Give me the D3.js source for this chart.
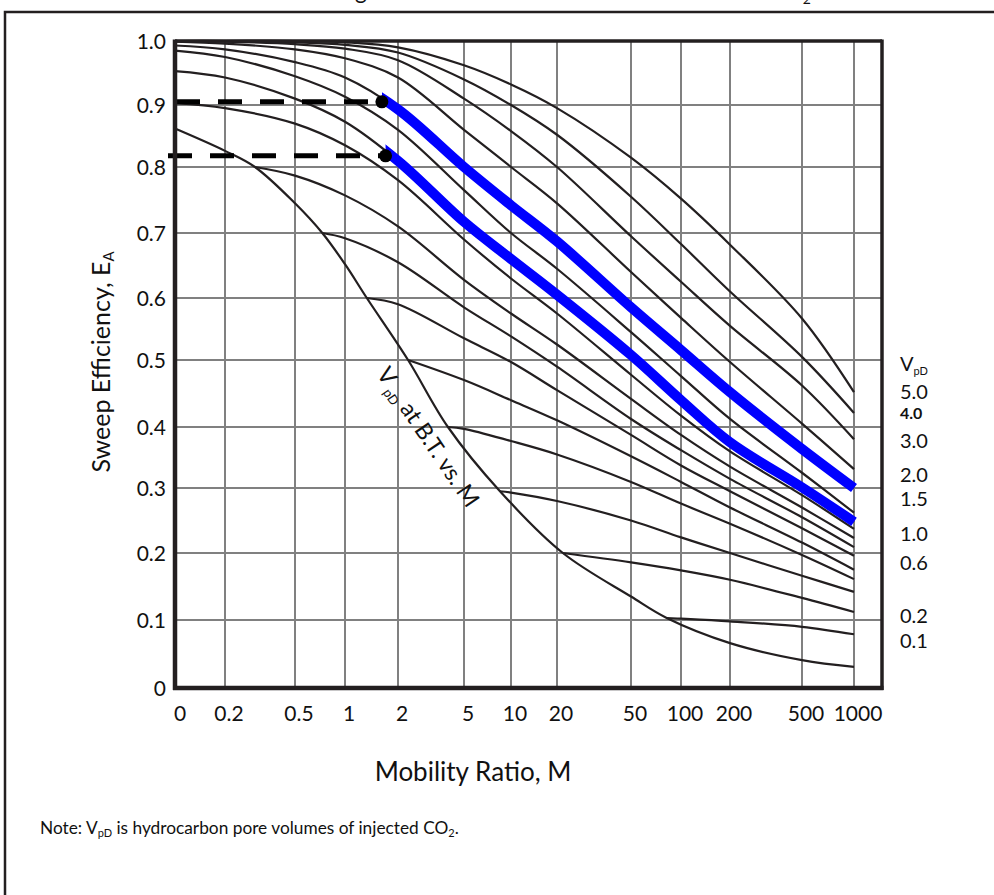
<!DOCTYPE html>
<html>
<head>
<meta charset="utf-8">
<script src="https://cdnjs.cloudflare.com/ajax/libs/d3/7.8.5/d3.min.js"></script>
<style>
  body { margin: 0; background: #fff; }
  svg { display: block; font-family: Lato, "Open Sans", sans-serif; fill: #111; }
</style>
</head>
<body>
<svg class="chart" width="994" height="895"></svg>
<script>
// ---- data ----
var mTicks  = [0.1, 0.2, 0.5, 1, 2, 5, 10, 20, 50, 100, 200, 500, 1000];
var mLabels = ["0", "0.2", "0.5", "1", "2", "5", "10", "20", "50", "100", "200", "500", "1000"];
var eTicks  = [0, 0.1, 0.2, 0.3, 0.4, 0.5, 0.6, 0.7, 0.8, 0.9, 1.0];
var eLabels = ["0", "0.1", "0.2", "0.3", "0.4", "0.5", "0.6", "0.7", "0.8", "0.9", "1.0"];

// V_pD at breakthrough vs M  [M, E_A]
var btCurve = [[0.1,0.862],[0.2,0.826],[0.296,0.80],[0.5,0.745],[0.73,0.70],[1,0.652],[1.33,0.60],
               [2.3,0.50],[4,0.40],[8.5,0.295],[21.5,0.20],[50,0.135],[82,0.103],[200,0.066],[500,0.041],[1000,0.031]];

// constant V_pD curves [M, E_A]
var vpd5_0 = [[0.1,1.0],[0.2,1.0],[0.5,1.0],[1,0.998],[2,0.99],[5,0.962],[10,0.932],[20,0.895],[50,0.815],[100,0.752],[200,0.682],[500,0.567],[1000,0.452]];
var vpd4_0 = [[0.1,1.0],[0.2,1.0],[0.5,0.998],[1,0.994],[2,0.982],[5,0.94],[10,0.90],[20,0.852],[50,0.755],[100,0.683],[200,0.61],[500,0.505],[1000,0.421]];
var vpd3_0 = [[0.1,1.0],[0.2,0.999],[0.5,0.995],[1,0.988],[2,0.97],[5,0.91],[10,0.858],[20,0.80],[50,0.695],[100,0.625],[200,0.555],[500,0.462],[1000,0.380]];
var vpd2_0 = [[0.1,0.999],[0.2,0.996],[0.5,0.987],[1,0.973],[2,0.943],[5,0.86],[10,0.80],[20,0.745],[50,0.64],[100,0.568],[200,0.497],[500,0.405],[1000,0.331]];
var vpd1_5 = [[0.1,0.993],[0.2,0.987],[0.5,0.967],[1,0.943],[2,0.893],[5,0.80],[10,0.742],[20,0.687],[50,0.585],[100,0.516],[200,0.452],[500,0.364],[1000,0.300]];
var vpd1_2 = [[0.1,0.985],[0.2,0.975],[0.5,0.945],[1,0.913],[2,0.86],[5,0.765],[10,0.70],[20,0.645],[50,0.545],[100,0.476],[200,0.412],[500,0.325],[1000,0.262]];
var vpd1_0 = [[0.1,0.953],[0.2,0.943],[0.5,0.91],[1,0.873],[2,0.81],[5,0.717],[10,0.66],[20,0.605],[50,0.508],[100,0.44],[200,0.375],[500,0.301],[1000,0.248]];
var vpd0_9 = [[0.1,0.903],[0.2,0.895],[0.5,0.87],[1,0.835],[2,0.78],[5,0.69],[10,0.63],[20,0.575],[50,0.478],[100,0.417],[200,0.36],[500,0.289],[1000,0.237]];
var vpd0_8 = [[0.296,0.80],[0.5,0.787],[1,0.757],[2,0.71],[5,0.628],[10,0.575],[20,0.525],[50,0.442],[100,0.387],[200,0.335],[500,0.27],[1000,0.223]];
var vpd0_7 = [[0.73,0.70],[1,0.692],[2,0.655],[5,0.585],[10,0.538],[20,0.49],[50,0.412],[100,0.362],[200,0.315],[500,0.255],[1000,0.209]];
var vpd0_6 = [[1.33,0.60],[2,0.59],[5,0.535],[10,0.497],[20,0.455],[50,0.387],[100,0.337],[200,0.295],[500,0.238],[1000,0.196]];
var vpd0_5 = [[2.3,0.50],[5,0.47],[10,0.44],[20,0.41],[50,0.352],[100,0.31],[200,0.27],[500,0.216],[1000,0.175]];
var vpd0_4 = [[4,0.40],[5,0.397],[10,0.377],[20,0.355],[50,0.31],[100,0.276],[200,0.245],[500,0.197],[1000,0.161]];
var vpd0_3 = [[8.5,0.295],[10,0.293],[20,0.28],[50,0.25],[100,0.224],[200,0.20],[500,0.166],[1000,0.142]];
var vpd0_2 = [[21.5,0.20],[50,0.186],[100,0.174],[200,0.16],[500,0.133],[1000,0.112]];
var vpd0_1 = [[82,0.103],[100,0.102],[200,0.098],[500,0.09],[1000,0.079]];

var vpdCurves = [vpd5_0, vpd4_0, vpd3_0, vpd2_0, vpd1_5, vpd1_2, vpd1_0, vpd0_9,
                 vpd0_8, vpd0_7, vpd0_6, vpd0_5, vpd0_4, vpd0_3, vpd0_2, vpd0_1];

// highlighted readings (blue) at M ~ 1.7
var readCurves = [vpd1_5, vpd1_0];
var readM = [1.62, 1.70];
var readE = [0.905, 0.818];

// V_pD labels at right side
var vpdLabels = ["5.0", "4.0", "3.0", "2.0", "1.5", "1.0", "0.6", "0.2", "0.1"];
var vpdLabelE = [0.453, 0.420, 0.377, 0.321, 0.283, 0.230, 0.185, 0.106, 0.069];

// ---- scales (the printed axes are slightly irregular) ----
var x = d3.scaleLog()
    .domain([0.1, 0.2, 0.5, 1, 2, 5, 10, 20, 50, 100, 200, 500, 1000, 1466])
    .range([175, 225, 295, 345, 398, 464, 511, 557, 631, 681, 730, 802, 854, 882]);
var y = d3.scaleLinear()
    .domain(eTicks)
    .range([688, 620, 553, 488, 427, 360, 298, 233, 167, 105, 41]);

var plotL = 175, plotR = 882, plotT = 41, plotB = 688;
var ink = "#231f20";

var svg = d3.select(".chart");

// title (cut off at the top of the picture)
svg.append("text")
    .attr("x", 244).attr("y", -1)
    .style("font-size", "22.7px")
    .text("Breakthrough Area Contacted in Miscible Flood with CO")
  .append("tspan")
    .attr("dy", 5).style("font-size", "14px")
    .text("2");

// outer frame
svg.append("rect")
    .attr("x", 5).attr("y", 12)
    .attr("width", 1200).attr("height", 1200)
    .attr("fill", "none").attr("stroke", ink).attr("stroke-width", 2.5);

// grid
var grid = svg.append("g").attr("stroke", "#808080").attr("stroke-width", 2);
grid.selectAll(".vg")
    .data(mTicks.slice(1))
  .enter().append("line")
    .attr("x1", function(d) { return x(d); })
    .attr("x2", function(d) { return x(d); })
    .attr("y1", plotT).attr("y2", plotB);
grid.selectAll(".hg")
    .data(eTicks.slice(1, -1))
  .enter().append("line")
    .attr("y1", function(d) { return y(d); })
    .attr("y2", function(d) { return y(d); })
    .attr("x1", plotL).attr("x2", plotR);

// curves
var line = d3.line()
    .x(function(d) { return x(d[0]); })
    .y(function(d) { return y(d[1]); })
    .curve(d3.curveCatmullRom.alpha(0.5));

svg.append("g")
    .attr("fill", "none").attr("stroke", ink).attr("stroke-width", 2.2)
  .selectAll("path")
    .data(vpdCurves.concat([btCurve]))
  .enter().append("path")
    .attr("d", line);

// blue highlighted parts, from the reading point to the right
readCurves.forEach(function(c, i) {
  svg.append("clipPath").attr("id", "clip" + i)
    .append("rect")
      .attr("x", x(readM[i])).attr("y", 0)
      .attr("width", 900 - x(readM[i])).attr("height", 895);
  svg.append("path")
      .datum(c)
      .attr("clip-path", "url(#clip" + i + ")")
      .attr("fill", "none").attr("stroke", "#0000ff").attr("stroke-width", 10)
      .attr("d", line);
});

// dashed reading lines and dots
svg.selectAll(".dash")
    .data(readE)
  .enter().append("line")
    .attr("x1", function(d, i) { return i ? 168 : 176; })
    .attr("x2", function(d, i) { return x(readM[i]); })
    .attr("y1", function(d) { return y(d); })
    .attr("y2", function(d) { return y(d); })
    .attr("stroke", "#000").attr("stroke-width", 5)
    .attr("stroke-dasharray", "24,18");
svg.selectAll(".dot")
    .data(readE)
  .enter().append("circle")
    .attr("cx", function(d, i) { return x(readM[i]); })
    .attr("cy", function(d) { return y(d); })
    .attr("r", 6.5).attr("fill", "#000");

// plot border
svg.append("line").attr("x1", plotL).attr("x2", plotR).attr("y1", plotT).attr("y2", plotT)
    .attr("stroke", ink).attr("stroke-width", 3.5);
svg.append("line").attr("x1", plotR).attr("x2", plotR).attr("y1", plotT - 1.5).attr("y2", plotB + 2)
    .attr("stroke", ink).attr("stroke-width", 3.5);
svg.append("line").attr("x1", plotL).attr("x2", plotL).attr("y1", plotT - 1.5).attr("y2", plotB + 2)
    .attr("stroke", ink).attr("stroke-width", 4.5);
svg.append("line").attr("x1", plotL - 2).attr("x2", plotR + 1.5).attr("y1", plotB).attr("y2", plotB)
    .attr("stroke", ink).attr("stroke-width", 4.5);

// tick labels
svg.selectAll(".xl")
    .data(mTicks)
  .enter().append("text")
    .attr("x", function(d, i) { return x(d) + (i ? 4 : 5); })
    .attr("y", 721)
    .attr("text-anchor", "middle")
    .style("font-size", "21px")
    .text(function(d, i) { return mLabels[i]; });
svg.selectAll(".yl")
    .data(eTicks)
  .enter().append("text")
    .attr("x", 166)
    .attr("y", function(d) { return y(d); })
    .attr("dy", "0.36em")
    .attr("text-anchor", "end")
    .style("font-size", "21px")
    .text(function(d, i) { return eLabels[i]; });

// axis titles
var yt = svg.append("text")
    .attr("transform", "translate(110,362) rotate(-90)")
    .attr("text-anchor", "middle")
    .style("font-size", "25px")
    .text("Sweep Efficiency, E");
yt.append("tspan").attr("dy", 4).style("font-size", "15px").text("A");

svg.append("text")
    .attr("x", 473).attr("y", 781)
    .attr("text-anchor", "middle")
    .style("font-size", "26px")
    .text("Mobility Ratio, M");

// V_pD labels on the right
var vh = svg.append("text").attr("x", 900).attr("y", y(0.495)).attr("dy", "0.36em")
    .style("font-size", "20px").text("V");
vh.append("tspan").attr("dy", 4).style("font-size", "11px").text("pD");

svg.selectAll(".vl")
    .data(vpdLabels)
  .enter().append("text")
    .attr("x", 900)
    .attr("y", function(d, i) { return y(vpdLabelE[i]); })
    .attr("dy", "0.36em")
    .style("font-size", function(d) { return d == "4.0" ? "16px" : "20px"; })
    .style("font-weight", function(d) { return d == "4.0" ? "bold" : null; })
    .text(function(d) { return d; });

// label along the breakthrough curve, sitting below-left of it
var bt = svg.append("text")
    .attr("transform", "translate(376,374) rotate(56)")
    .style("font-size", "23px")
    .text("V");
bt.append("tspan").attr("dy", 5).style("font-size", "13px").text(" pD");
bt.append("tspan").attr("dy", -5).text(" at B.T. vs. M");

// note
var note = svg.append("text").attr("x", 40).attr("y", 834).style("font-size", "17.3px").text("Note: V");
note.append("tspan").attr("dy", 3).style("font-size", "11px").text("pD");
note.append("tspan").attr("dy", -3).text(" is hydrocarbon pore volumes of  injected CO");
note.append("tspan").attr("dy", 3).style("font-size", "11px").text("2");
note.append("tspan").attr("dy", -3).text(".");
</script>
</body>
</html>
